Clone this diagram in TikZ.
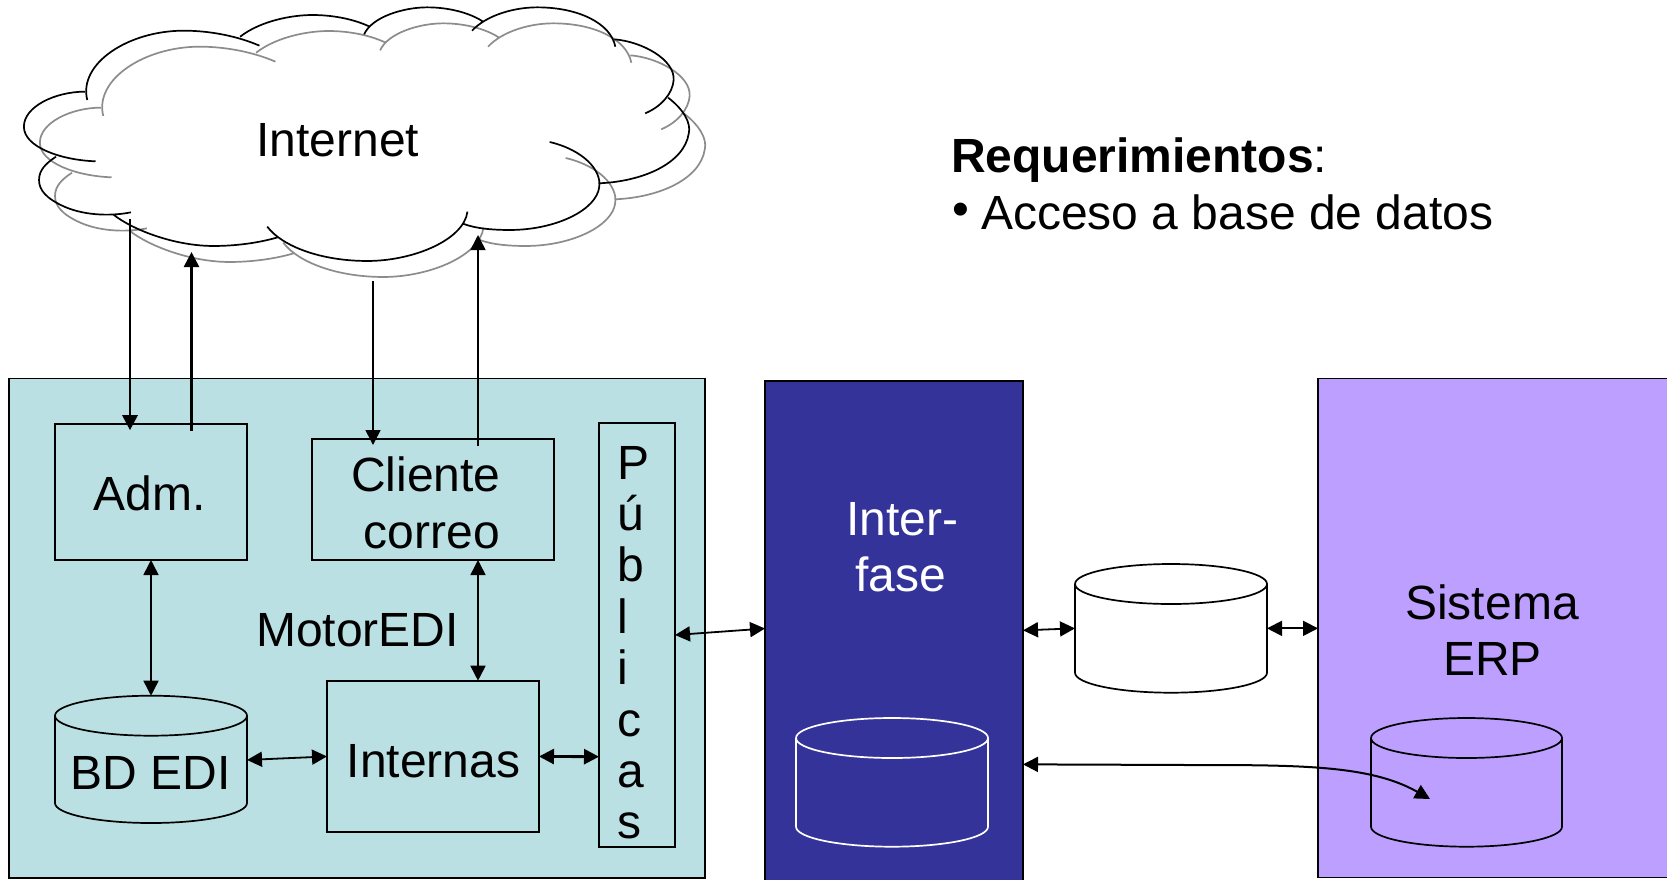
\documentclass[tikz,border=0pt]{standalone}
\usepackage{fontspec}
\setmainfont{Liberation Sans}
\usetikzlibrary{arrows.meta,calc}
\definecolor{mainfill}{HTML}{BBE0E3}
\definecolor{ifacefill}{HTML}{333399}
\definecolor{erpfill}{HTML}{BC9FFF}
\definecolor{shadowline}{HTML}{8C8C8C}
\newcommand{\boxn}[6]{%
  \pgfmathsetmacro\bw{#4-#2}\pgfmathsetmacro\bh{#5-#3}%
  \pgfmathsetmacro\cx{(#4+#2)/2}\pgfmathsetmacro\cy{(#5+#3)/2}%
  \node[boxstyle,#6,minimum width=\bw pt,minimum height=\bh pt] (#1) at (\cx,\cy) {};}
% name, x1, top, x2, bottom, style options
\newcommand{\cyln}[6]{%
  \pgfmathsetmacro\bw{#4-#2}\pgfmathsetmacro\bh{#5-#3}%
  \pgfmathsetmacro\cx{(#4+#2)/2}\pgfmathsetmacro\cy{(#5+#3)/2}%
  \pgfmathsetmacro\rx{(#4-#2)/2}\pgfmathsetmacro\mid{#3+20}\pgfmathsetmacro\low{#5-20}%
  \node[boxstyle,draw=none,fill=none,minimum width=\bw pt,minimum height=\bh pt] (#1) at (\cx,\cy) {};
  \draw[cylline,#6] (#2,\mid) -- (#2,\low) arc[start angle=180,end angle=360,x radius=\rx pt,y radius=20pt] -- (#4,\mid)
     arc[start angle=0,end angle=180,x radius=\rx pt,y radius=20pt]
     arc[start angle=180,end angle=360,x radius=\rx pt,y radius=20pt];}
\newcommand{\cloudarcs}{
  (190,300) .. controls (170,190) and (280,92) .. (400,92) .. controls (460,92) and (520,110) .. (565,137)
  (523,110) .. controls (570,60) and (640,45) .. (680,45) .. controls (730,45) and (775,60) .. (805,80)
  (793,103) .. controls (810,50) and (880,22) .. (930,22) .. controls (980,22) and (1025,40) .. (1052,65)
  (1028,92) .. controls (1060,45) and (1120,22) .. (1170,22) .. controls (1260,22) and (1330,70) .. (1340,140)
  (1338,118) .. controls (1400,125) and (1470,180) .. (1467,240) .. controls (1465,280) and (1440,320) .. (1405,340)
  (1455,293) .. controls (1490,330) and (1505,370) .. (1500,400) .. controls (1490,490) and (1400,545) .. (1303,550)
  (1197,426) .. controls (1270,450) and (1310,510) .. (1305,560) .. controls (1300,630) and (1210,690) .. (1110,690) .. controls (1070,690) and (1035,685) .. (1010,672)
  (1018,635) .. controls (1010,720) and (900,783) .. (800,783) .. controls (700,783) and (615,740) .. (582,680)
  (605,712) .. controls (560,730) and (510,738) .. (465,738) .. controls (380,738) and (290,690) .. (248,645)
  (285,637) .. controls (250,647) and (190,650) .. (140,620) .. controls (100,595) and (85,570) .. (85,540) .. controls (85,510) and (100,490) .. (122,470)
  (208,484) .. controls (130,480) and (52,440) .. (52,380) .. controls (52,320) and (120,275) .. (185,275)
}
\tikzset{
  boxstyle/.style={draw=black,line width=1.8pt,inner sep=0pt,outer sep=0pt,rectangle},
  cylline/.style={line width=1.7pt,line join=round},
  label/.style={inner sep=0pt,outer sep=0pt,anchor=base,font=\fontsize{48}{51.4}\selectfont},
  bi/.style={{Triangle[length=15pt,width=15pt]}-{Triangle[length=15pt,width=15pt]},line width=#1},
  uni/.style={-{Triangle[length=15pt,width=15pt]},line width=#1},
}
\begin{document}
\begin{tikzpicture}[x=1pt,y=-1pt]
\path[use as bounding box] (0,0) rectangle (1667,879);
\clip (0,0) rectangle (1667,879);
% cloud
\begin{scope}[x=0.4592pt,y=-0.3333pt,xshift=16pt,yshift=-16pt]
  \draw[shadowline,line width=1.7pt] \cloudarcs;
\end{scope}
\begin{scope}[x=0.4592pt,y=-0.3333pt]
  \draw[black,line width=1.7pt] \cloudarcs;
\end{scope}
\coordinate (cloudA) at (130,219);
\coordinate (cloudB) at (191.5,252);
\coordinate (cloudC) at (373,281);
\coordinate (cloudD) at (478,235);
\coordinate (erptip) at (1430,799);
\coordinate (bend) at (1188,765);
% panels
\boxn{main}{9}{378.5}{705}{878}{fill=mainfill}
\boxn{iface}{765}{380.7}{1023}{895}{fill=ifacefill}
\boxn{erp}{1318}{378.5}{1670}{877.5}{fill=erpfill}
% inner boxes
\boxn{adm}{55}{423.7}{247}{560}{}
\boxn{cli}{312}{439}{554}{560}{}
\boxn{pub}{599}{423}{675}{847}{}
\boxn{inte}{327}{680.7}{539}{832}{}
% cylinders
\cyln{bd}{55}{695.7}{247}{823}{black}
\cyln{mid}{1075}{564}{1267}{692.7}{black,fill=white}
\cyln{idb}{796}{718}{988}{846.7}{white}
\cyln{edb}{1371}{718}{1562}{846.7}{black}
% labels
\node[label] (linternet) at (337.7,156) {Internet};
\node[label,anchor=base west] (lreq) at (951,172) {\textbf{Requerimientos}:};
\node[label,anchor=base west] (lacc) at (981,229.6) {\llap{\raisebox{0.08em}{•}\hspace{12pt}}Acceso a base de datos};
\node[label] (ladm) at (149.8,510.7) {Adm.};
\node[label] (lcli) at (426,491) {Cliente};
\node[label] (lcor) at (432,548) {correo};
\node[label] (lmotor) at (357.5,646) {MotorEDI};
\node[label] (lbd) at (150.5,789) {BD EDI};
\node[label] (lint) at (433.6,777) {Internas};
\node[label,anchor=north west,align=left] (lpub) at (617,446) {P\\ú\\b\\l\\i\\c\\a\\s};
\node[label,text=white] (linter) at (902.3,535) {Inter-};
\node[label,text=white] (lfase) at (900.8,591.7) {fase};
\node[label] (lsis) at (1492,619) {Sistema};
\node[label] (lerp) at (1492.6,675) {ERP};
% connectors
\draw[uni=2.8pt] (cloudA) -- ([xshift=-21pt,yshift=-6.5pt]adm.north);
\draw[uni=2.6pt] ([xshift=40.5pt,yshift=-7pt]adm.north) -- (cloudB);
\draw[uni=1.6pt] (cloudC) -- ([xshift=-60pt,yshift=-6pt]cli.north);
\draw[uni=1.6pt] ([xshift=45pt,yshift=-6.7pt]cli.north) -- (cloudD);
\draw[bi=1.6pt] (adm.south) -- (bd.north);
\draw[bi=1.6pt] ([xshift=45pt]cli.south) -- ([xshift=45pt]inte.north);
\draw[bi=1.8pt] ([yshift=-0.6pt]bd.east) -- ([yshift=-0.1pt]inte.west);
\draw[bi=2.8pt] ([yshift=-0.1pt]inte.east) -- ([yshift=-121.7pt]pub.east -| pub.west);
\draw[bi=1.8pt] ([yshift=0pt]pub.east) -- ([yshift=6.5pt]iface.west |- pub.east);
\draw[bi=1.8pt] ([yshift=-2pt]iface.east |- mid.east) -- ([yshift=0pt]mid.east -| mid.west);
\draw[bi=1.8pt] (mid.east) -- (erp.west |- mid.east);
\draw[bi=2pt] ([yshift=-136pt]iface.east |- mid.east) -- (bend) .. controls (1300,765) and (1370,765) .. (erptip);
\end{tikzpicture}
\end{document}
